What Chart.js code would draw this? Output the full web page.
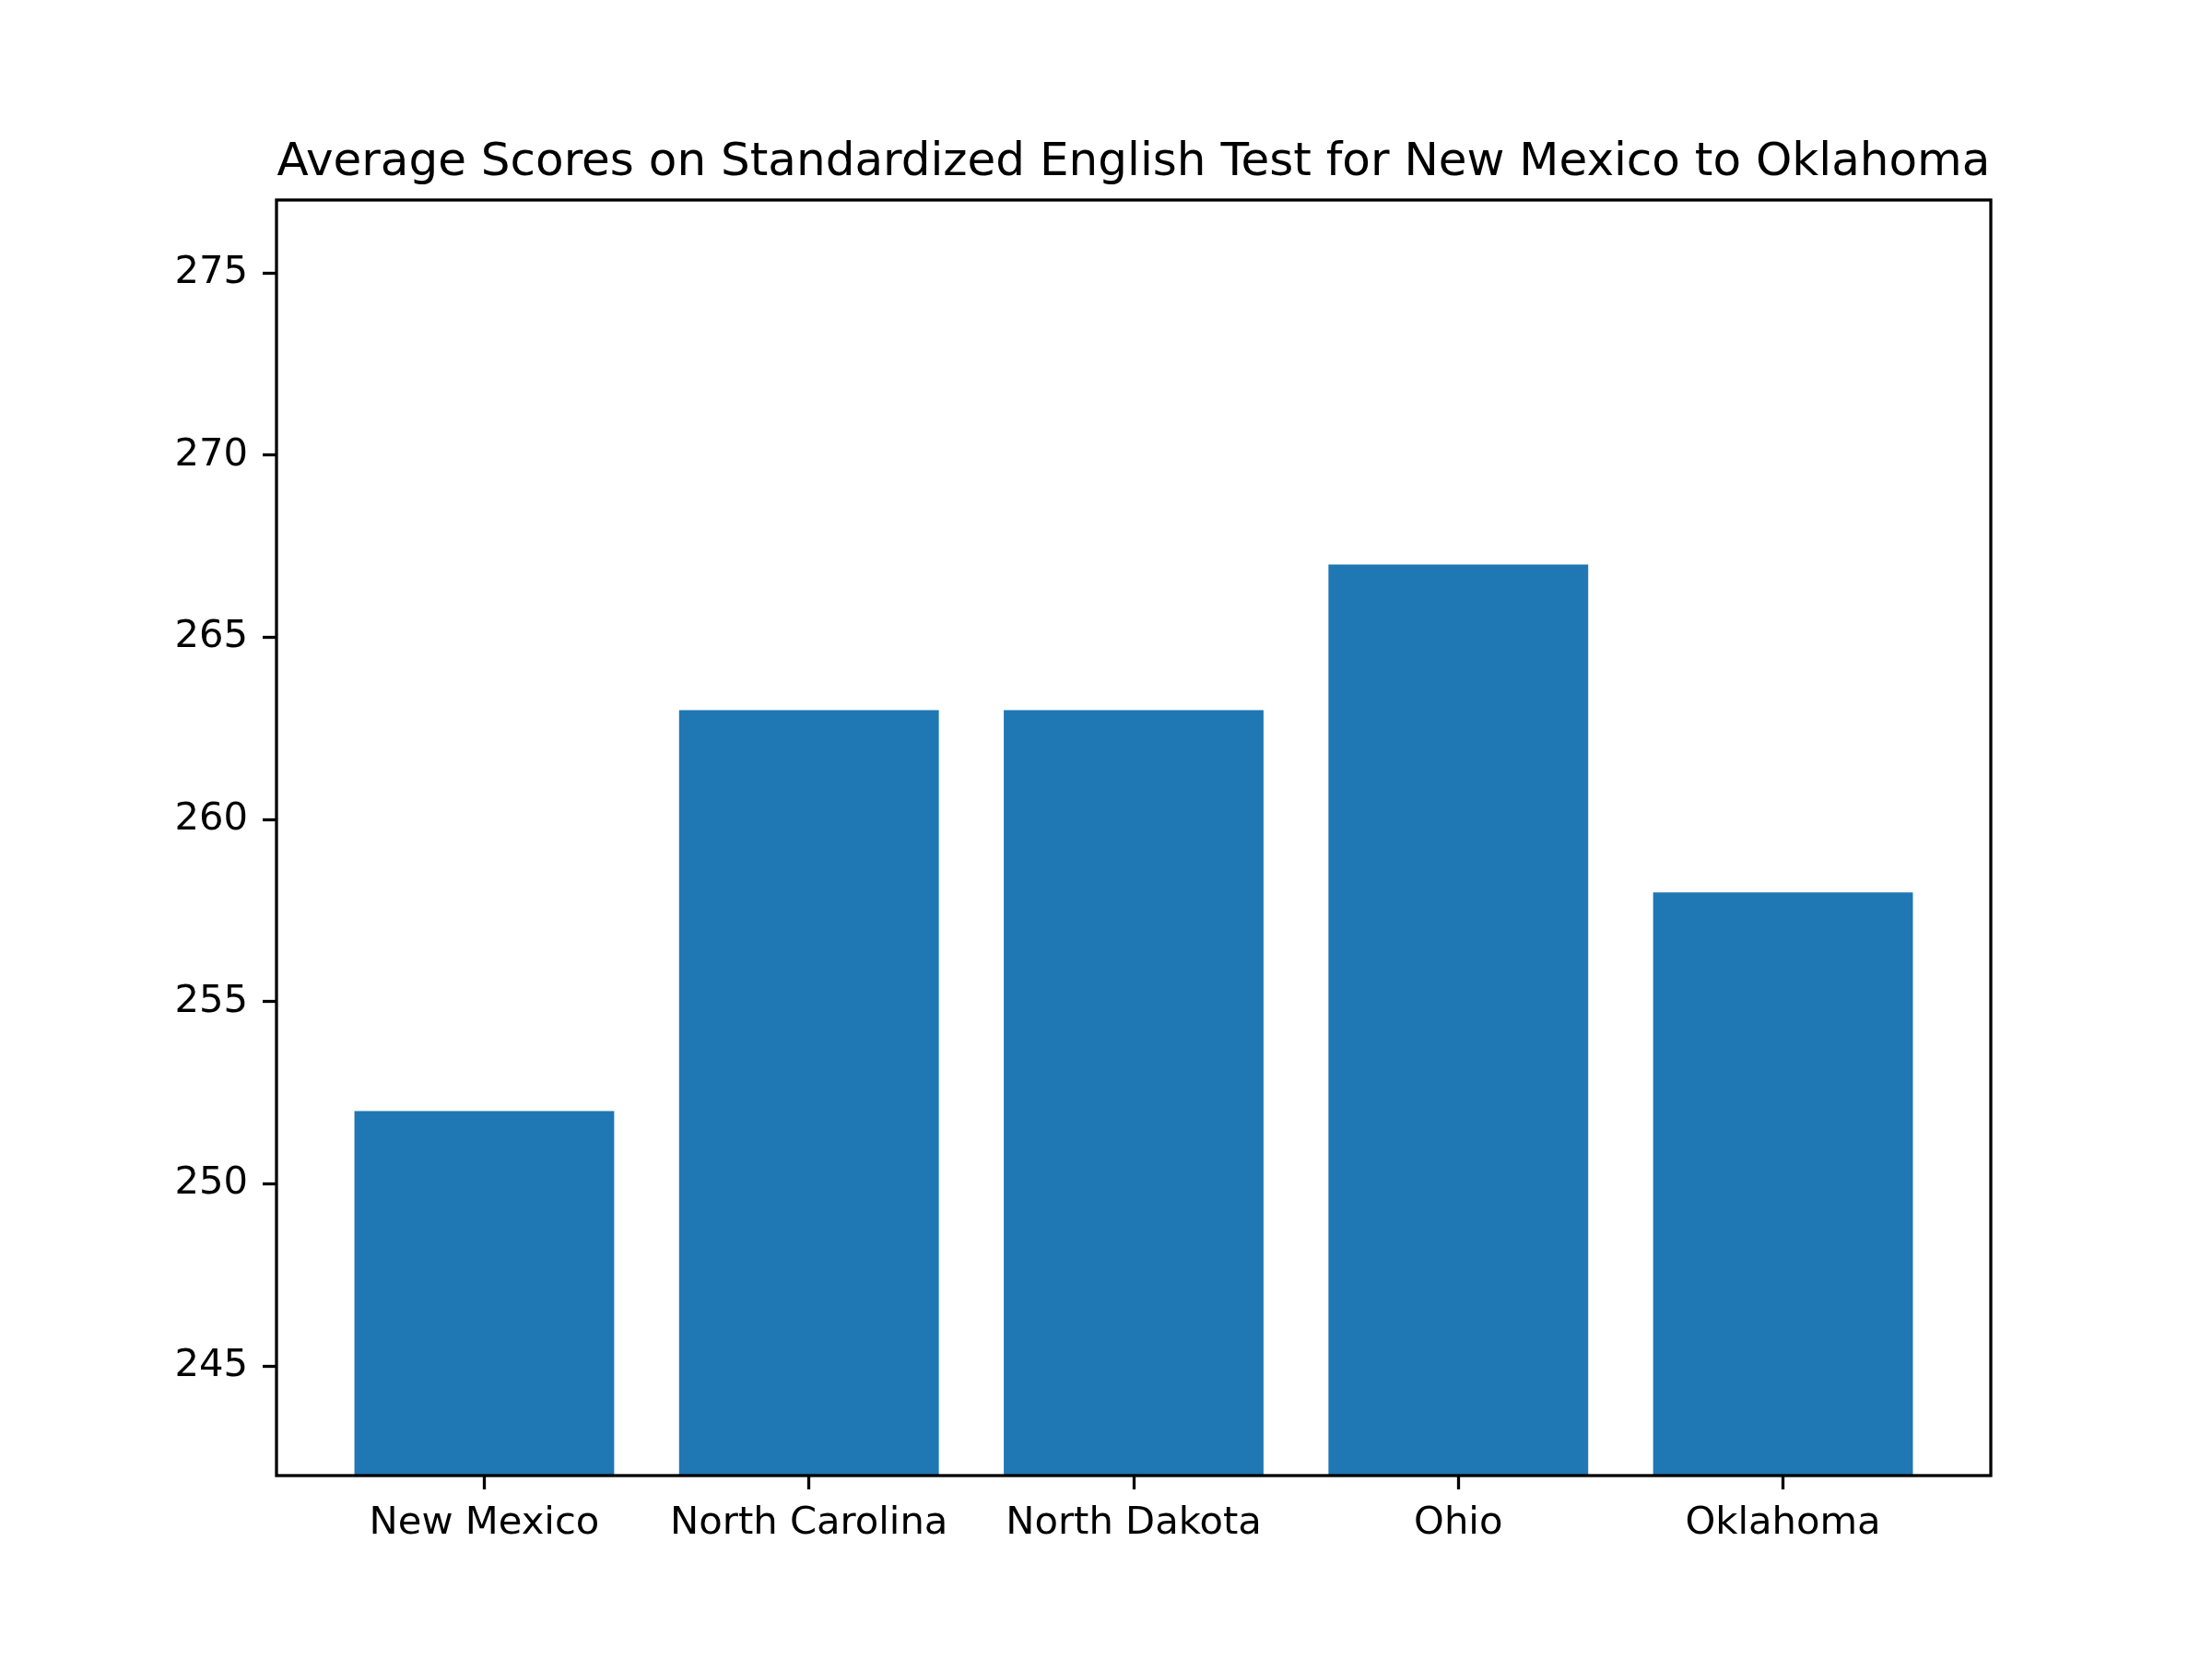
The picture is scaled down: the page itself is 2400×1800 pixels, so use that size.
<!DOCTYPE html>
<html>
<head>
<meta charset="utf-8">
<script src="https://cdn.jsdelivr.net/npm/chart.js@4.4.0/dist/chart.umd.min.js"></script>
<style>
  body { margin: 0; background: #fff; }
  #wrap { width: 2400px; height: 1800px; }
</style>
</head>
<body>
<div id="wrap"><canvas id="chart" width="2400" height="1800"></canvas></div>
<script>
// data
const states = ['New Mexico', 'North Carolina', 'North Dakota', 'Ohio', 'Oklahoma'];
const scores = [252, 263, 263, 267, 258];
const yTicks = [245, 250, 255, 260, 265, 270, 275];
const chartTitle = 'Average Scores on Standardized English Test for New Mexico to Oklahoma';

const fontFamily = '"DejaVu Sans", sans-serif';

// draw the four spines round the plot area like matplotlib does
const frame = {
    id: 'frame',
    afterDatasetsDraw(chart) {
        const { ctx, chartArea } = chart;
        ctx.save();
        ctx.strokeStyle = '#000';
        ctx.lineWidth = 3.3;
        ctx.strokeRect(chartArea.left, chartArea.top, chartArea.right - chartArea.left, chartArea.bottom - chartArea.top);
        ctx.restore();
    }
};

const points = states.map((s, i) => ({ x: i, y: scores[i] }));

new Chart(document.getElementById('chart'), {
    type: 'bar',
    data: {
        datasets: [{
            label: 'Score',
            data: points,
            backgroundColor: '#1f77b4',
            borderWidth: 0,
            barPercentage: 0.8,
            categoryPercentage: 1.0
        }]
    },
    options: {
        responsive: false,
        animation: false,
        devicePixelRatio: 1,
        layout: { padding: { left: 0, right: 240, top: 0, bottom: 0 } },
        plugins: {
            legend: { display: false },
            tooltip: { enabled: false },
            title: {
                display: true,
                text: chartTitle,
                fullSize: false,
                color: '#000',
                font: { family: fontFamily, size: 50, weight: 'normal', lineHeight: 1.2 },
                padding: { top: 147, bottom: 10 }
            }
        },
        scales: {
            x: {
                type: 'linear',
                min: -0.64,
                max: 4.64,
                offset: false,
                afterBuildTicks: scale => { scale.ticks = states.map((s, i) => ({ value: i })); },
                afterFit: scale => { scale.height = 199; },
                grid: { display: true, offset: false, drawOnChartArea: false, drawTicks: true, tickLength: 15, tickColor: '#000', tickWidth: 3.3 },
                border: { display: false },
                ticks: {
                    autoSkip: false,
                    maxRotation: 0,
                    padding: 12,
                    color: '#000',
                    font: { family: fontFamily, size: 41.7 },
                    callback: value => states[value]
                }
            },
            y: {
                type: 'linear',
                min: 242,
                max: 277,
                afterBuildTicks: scale => { scale.ticks = yTicks.map(v => ({ value: v })); },
                afterFit: scale => { scale.width = 300; },
                grid: { display: true, drawOnChartArea: false, drawTicks: true, tickLength: 15, tickColor: '#000', tickWidth: 3.3 },
                border: { display: false },
                ticks: {
                    padding: 16,
                    color: '#000',
                    font: { family: fontFamily, size: 41.7 }
                }
            }
        }
    },
    plugins: [frame]
});
</script>
</body>
</html>
